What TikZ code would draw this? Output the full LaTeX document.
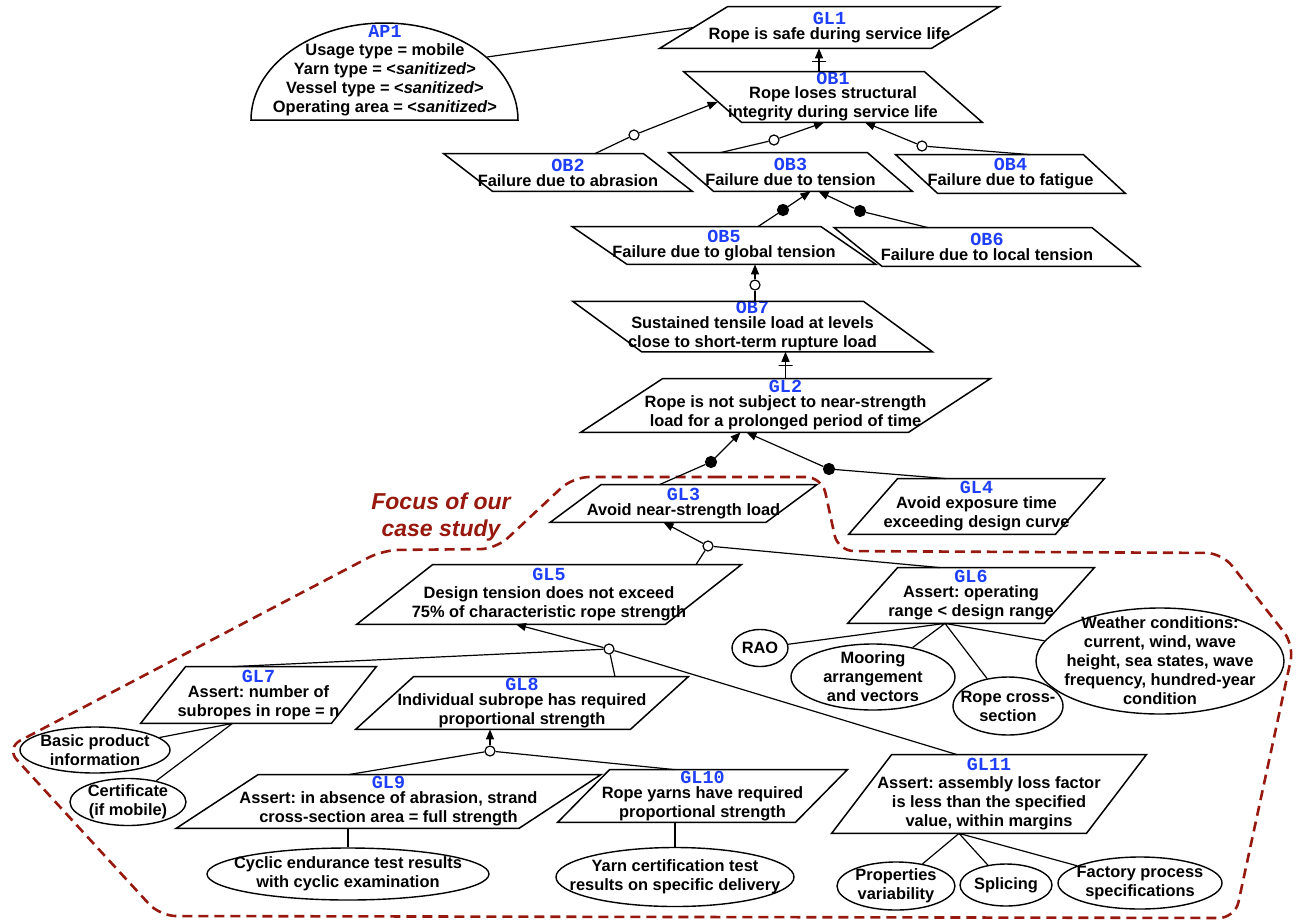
\documentclass[tikz,border=0pt]{standalone}
\usepackage{fontspec}
\setmainfont{Liberation Sans}
\newfontfamily\idfamily{Liberation Mono}
\usepackage{xcolor}
\usepackage{tikz}
\usetikzlibrary{arrows.meta, shapes.geometric}
\definecolor{idblue}{RGB}{30,62,250}
\definecolor{focusred}{RGB}{150,24,14}
\frenchspacing

\newcommand{\idf}[1]{{\idfamily\bfseries\fontsize{9.2pt}{9.5pt}\selectfont\color{idblue}#1}}
% parallelogram round a box node, #2 = half the slant (goals > 0, obstacles < 0)
\newcommand{\pgram}[2]{%
  \draw[pgline] ([xshift=#2]#1.north west) -- ([xshift=#2]#1.north east)
    -- ([xshift={-(#2)}]#1.south east) -- ([xshift={-(#2)}]#1.south west) -- cycle;}

\begin{document}
\begin{tikzpicture}[
  x=0.5pt, y=-0.5pt,
  txt/.style      = {font=\fontsize{8.2pt}{9.5pt}\selectfont\bfseries, align=center},
  goal/.style     = {txt, rectangle, inner sep=0pt},
  pgline/.style   = {line width=0.75pt},
  ev/.style       = {ellipse, draw, line width=0.7pt, inner sep=0pt},
  evtext/.style   = {txt},
  link/.style     = {line width=0.6pt},
  arr/.style      = {link, -{Triangle[length=5pt, width=4pt]}},
  orc/.style      = {circle, draw, fill=white, line width=0.6pt, inner sep=0pt, minimum size=5pt},
  andc/.style     = {circle, draw, fill=black, line width=0.6pt, inner sep=0pt, minimum size=5.5pt},
  crossbar/.style = {sloped, draw, line width=0.6pt, inner sep=0pt, minimum width=0pt, minimum height=7pt},
  focusline/.style= {draw=focusred, line width=1.3pt, dash pattern=on 5pt off 3pt, rounded corners=8pt},
  focustxt/.style = {font=\fontsize{11.5pt}{13.5pt}\selectfont\bfseries\itshape, text=focusred, align=center},
]
\useasboundingbox (0,0) rectangle (1296,922);

% focus of the case study
\draw[focusline] (700,477) -- (822,477) -- (838,551) -- (1222,553) -- (1294,645)
  -- (1235,918) -- (160,916) -- (6,748) -- (383,550) -- (496,549) -- (573,477) -- cycle;
\node[focustxt] (focus) at (441,517) {Focus of our\\case study};

% domain property
\node[txt] (ap1) at (385,71) {\idf{AP1}\\[-0.5pt]Usage type = mobile\\Yarn type = <\textit{sanitized}>\\Vessel type = <\textit{sanitized}>\\Operating area = <\textit{sanitized}>};
\draw[pgline] (518,120) arc[start angle=0, end angle=180, x radius=66.75pt, y radius=48.5pt] -- cycle;
\coordinate (ap1rim) at (487,57);

% goals and obstacles
\node[goal, minimum width=135.5pt, minimum height=20.5pt] (gl1) at (829.5,27.5)
  {\idf{GL1}\\[-2pt]Rope is safe during service life};
\pgram{gl1}{17pt}
\node[goal, minimum width=120pt, minimum height=25pt] (ob1) at (833,97)
  {\idf{OB1}\\[-2.5pt]Rope loses structural\\integrity during service life};
\pgram{ob1}{-14.5pt}
\node[goal, minimum width=99.5pt, minimum height=18.5pt] (ob2) at (568,172.5)
  {\idf{OB2}\\[-2pt]Failure due to abrasion};
\pgram{ob2}{-12.25pt}
\node[goal, minimum width=99pt, minimum height=19pt] (ob3) at (790.5,172)
  {\idf{OB3}\\[-2pt]Failure due to tension};
\pgram{ob3}{-11.25pt}
\node[goal, minimum width=93.5pt, minimum height=19pt] (ob4) at (1010.5,174)
  {\idf{OB4}\\[-2pt]Failure due to fatigue};
\pgram{ob4}{-10.5pt}
\node[goal, minimum width=124pt, minimum height=18.5pt] (ob5) at (724,245.5)
  {\idf{OB5}\\[-2pt]Failure due to global tension};
\pgram{ob5}{-13.75pt}
\node[goal, minimum width=128.5pt, minimum height=19pt] (ob6) at (987,247)
  {\idf{OB6}\\[-2pt]Failure due to local tension};
\pgram{ob6}{-12pt}
\node[goal, minimum width=145pt, minimum height=24.5pt] (ob7) at (752.5,326.5)
  {\idf{OB7}\\[-2pt]Sustained tensile load at levels\\close to short-term rupture load};
\pgram{ob7}{-17.25pt}
\node[goal, minimum width=163.5pt, minimum height=26.5pt] (gl2) at (785.5,405.5)
  {\idf{GL2}\\[-2pt]Rope is not subject to near-strength\\load for a prolonged period of time};
\pgram{gl2}{20.5pt}
\node[goal, minimum width=107.5pt, minimum height=18.5pt] (gl3) at (683.5,503.5)
  {\idf{GL3}\\[-2pt]Avoid near-strength load};
\pgram{gl3}{12.75pt}
\node[goal, minimum width=103pt, minimum height=27.5pt] (gl4) at (976.5,506.5)
  {\idf{GL4}\\[-2pt]Avoid exposure time\\exceeding design curve};
\pgram{gl4}{12.25pt}
\node[goal, minimum width=154pt, minimum height=29.5pt] (gl5) at (549,594.5)
  {\idf{GL5}\\[-0.5pt]Design tension does not exceed\\75\% of characteristic rope strength};
\pgram{gl5}{19pt}
\node[goal, minimum width=98pt, minimum height=27.5pt] (gl6) at (971,595.5)
  {\idf{GL6}\\[-2pt]Assert: operating\\range < design range};
\pgram{gl6}{12.5pt}
\node[goal, minimum width=95pt, minimum height=28pt] (gl7) at (258.5,695)
  {\idf{GL7}\\[-2pt]Assert: number of\\subropes in rope = n};
\pgram{gl7}{11.25pt}
\node[goal, minimum width=137pt, minimum height=26pt] (gl8) at (522,703)
  {\idf{GL8}\\[-2pt]Individual subrope has required\\proportional strength};
\pgram{gl8}{14.5pt}
\node[goal, minimum width=171pt, minimum height=26.5pt] (gl9) at (388.5,801.5)
  {\idf{GL9}\\[-2pt]Assert: in absence of abrasion, strand\\cross-section area = full strength};
\pgram{gl9}{20.5pt}
\node[goal, minimum width=118.5pt, minimum height=26pt] (gl10) at (702.5,796)
  {\idf{GL10}\\[-2pt]Rope yarns have required\\proportional strength};
\pgram{gl10}{13pt}
\node[goal, minimum width=127pt, minimum height=39pt] (gl11) at (989,794)
  {\idf{GL11}\\[-0.5pt]Assert: assembly loss factor\\is less than the specified\\value, within margins};
\pgram{gl11}{15pt}

% evidence
\node[ev, minimum width=75pt, minimum height=23pt, label={[evtext]center:{Basic product\\information}}] (basic) at (95,750) {};
\node[ev, minimum width=58pt, minimum height=23.5pt, label={[evtext]center:{Certificate\\(if mobile)}}] (cert) at (128,802) {};
\node[ev, minimum width=141pt, minimum height=26pt, label={[evtext]center:{Cyclic endurance test results\\with cyclic examination}}] (cyclic) at (348,874) {};
\node[ev, minimum width=119pt, minimum height=29.5pt, label={[evtext]center:{Yarn certification test\\results on specific delivery}}] (yarn) at (675,877) {};
\node[ev, minimum width=28pt, minimum height=18.5pt, label={[evtext]center:RAO}] (rao) at (760,648) {};
\node[ev, minimum width=82pt, minimum height=33pt, label={[evtext]center:{Mooring\\arrangement\\and vectors}}] (mooring) at (873,677) {};
\node[ev, minimum width=55pt, minimum height=29pt, label={[evtext]center:{Rope cross-\\section}}] (ropecs) at (1008,706) {};
\node[ev, minimum width=124pt, minimum height=53pt, label={[evtext]center:{Weather conditions:\\current, wind, wave\\height, sea states, wave\\frequency, hundred-year\\condition}}] (weather) at (1160,661) {};
\node[ev, minimum width=59pt, minimum height=24pt, label={[evtext]center:{Properties\\variability}}] (props) at (896,886) {};
\node[ev, minimum width=46pt, minimum height=21pt, label={[evtext]center:Splicing}] (splice) at (1006,885) {};
\node[ev, minimum width=82pt, minimum height=26pt, label={[evtext]center:{Factory process\\specifications}}] (factory) at (1140,883) {};

% refinement points
\node[orc]  (or2)   at (634,135) {};
\node[orc]  (or3)   at (774,140) {};
\node[orc]  (or4)   at (922,146) {};
\node[andc] (and5)  at (783,210) {};
\node[andc] (and6)  at (860,211) {};
\node[orc]  (or7)   at (755,285) {};
\node[andc] (and3)  at (711,462) {};
\node[andc] (and4)  at (829,469) {};
\node[orc]  (orgl3) at (708,546) {};
\node[orc]  (orgl5) at (609,649) {};
\node[orc]  (orgl8) at (490,751) {};

% links
\draw[link] (ap1rim) -- (gl1.west);
\draw[arr] ([xshift=-7pt]ob1.north) -- ([xshift=-7pt]ob1.north |- gl1.south) node[crossbar, pos=0.42] {};
\draw[link] ([xshift=13.5pt]ob2.north) -- (or2);
\draw[arr] (or2) -- ([shift={(2.5pt,-2.5pt)}]ob1.west);
\draw[link] ([xshift=-35pt]ob3.north) -- (or3);
\draw[arr] (or3) -- ([xshift=-4.5pt]ob1.south);
\draw[link] ([xshift=9.75pt]ob4.north) -- (or4);
\draw[arr] (or4) -- ([xshift=16pt]ob1.south);
\draw[link] ([xshift=17pt]ob5.north) -- (and5);
\draw[arr] (and5) -- ([xshift=10pt]ob3.south);
\draw[link] ([xshift=-29.5pt]ob6.north) -- (and6);
\draw[arr] (and6) -- ([xshift=14pt]ob3.south);
\draw[link] (ob7.north -| or7) -- (or7);
\draw[arr] (or7) -- (or7 |- ob5.south);
\draw[arr] (gl2.north) -- (gl2.north |- ob7.south) node[crossbar, pos=0.5] {};
\draw[link] ([xshift=-12pt]gl3.north) -- (and3);
\draw[arr] (and3) -- ([xshift=-22.5pt]gl2.south);
\draw[link] ([xshift=-15pt]gl4.north) -- (and4);
\draw[arr] (and4) -- ([xshift=-19.5pt]gl2.south);
\draw[link] ([xshift=73.5pt]gl5.north) -- (orgl3);
\draw[link] ([xshift=-15.5pt]gl6.north) -- (orgl3);
\draw[arr] (orgl3) -- ([xshift=-10pt]gl3.south);
\draw[link] ([xshift=-13pt]gl7.north) -- (orgl5);
\draw[link] ([xshift=46.5pt]gl8.north) -- (orgl5);
\draw[link] ([xshift=-16pt]gl11.north) -- (orgl5);
\draw[arr] (orgl5) -- ([xshift=-16.5pt]gl5.south);
\draw[link] ([xshift=-20pt]gl9.north) -- (orgl8);
\draw[link] ([xshift=-14pt]gl10.north) -- (orgl8);
\draw[arr] (orgl8) -- (orgl8 |- gl8.south);

% evidence links
\coordinate (gl7foot)  at ([xshift=-13pt]gl7.south);
\coordinate (gl6foot)  at ([xshift=-13pt]gl6.south);
\coordinate (gl11foot) at ([xshift=-15pt]gl11.south);
\draw[link] (gl7foot) -- (basic) (gl7foot) -- (cert);
\draw[link] (cyclic.north |- gl9.south) -- (cyclic);
\draw[link] (yarn.north |- gl10.south) -- (yarn);
\draw[link] (gl6foot) -- (rao) (gl6foot) -- (mooring) (gl6foot) -- (ropecs) (gl6foot) -- (weather);
\draw[link] (gl11foot) -- (props) (gl11foot) -- (splice) (gl11foot) -- (factory);
\end{tikzpicture}
\end{document}
